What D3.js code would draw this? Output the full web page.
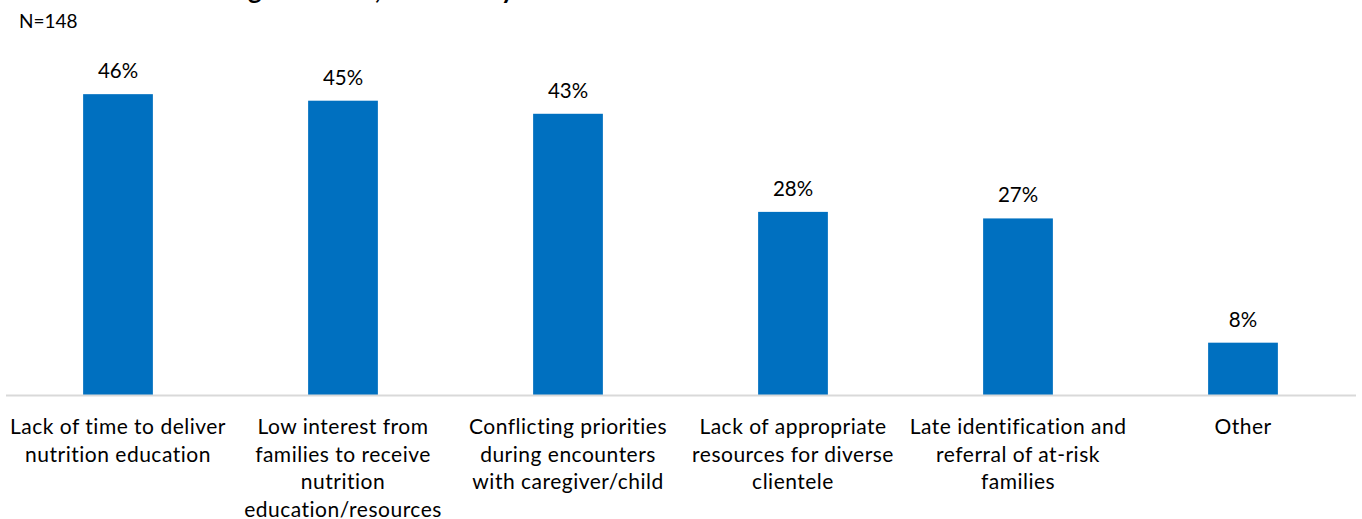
<!DOCTYPE html>
<html>
<head>
<meta charset="utf-8">
<script src="https://cdn.jsdelivr.net/npm/d3@7"></script>
<style>
  html, body { margin: 0; padding: 0; background: #fff; }
  svg { display: block; }
  text { font-family: Lato, "Open Sans", sans-serif; fill: #000; }
</style>
</head>
<body>
<script>
// Barrier categories (each label split into its display lines)
const categories = [
  "Lack of time to deliver nutrition education",
  "Low interest from families to receive nutrition education/resources",
  "Conflicting priorities during encounters with caregiver/child",
  "Lack of appropriate resources for diverse clientele",
  "Late identification and referral of at-risk families",
  "Other"
];
const categoryLines = [
  ["Lack of time to deliver", "nutrition education"],
  ["Low interest from", "families to receive", "nutrition", "education/resources"],
  ["Conflicting priorities", "during encounters", "with caregiver/child"],
  ["Lack of appropriate", "resources for diverse", "clientele"],
  ["Late identification and", "referral of at-risk", "families"],
  ["Other"]
];
// Share of respondents selecting each barrier (%)
const values = [46, 45, 43, 28, 27, 8];
const sampleLabel = "N=148";
const titleText = "Barriers to Addressing Nutrition, as Cited by Staff";

const width = 1362, height = 519;
const svg = d3.select("body").append("svg")
  .attr("width", width).attr("height", height);

const x = d3.scaleBand()
  .domain(categories)
  .range([5.5, 1355.5])
  .paddingInner(0.69)
  .paddingOuter(0.345);

const y = d3.scaleLinear().domain([0, 50]).range([395, 68]);

// Title (runs off the top edge)
svg.append("text")
  .attr("x", 6).attr("y", -1)
  .attr("font-size", 26).attr("font-weight", "bold")
  .text(titleText);

svg.append("text")
  .attr("x", 19).attr("y", 28)
  .attr("font-size", 19)
  .text(sampleLabel);

// Bars
svg.append("g").selectAll("rect")
  .data(values)
  .join("rect")
  .attr("x", (d, i) => x(categories[i]))
  .attr("width", x.bandwidth())
  .attr("y", d => y(d))
  .attr("height", d => y(0) - y(d))
  .attr("fill", "#0070c0");

// Value labels
svg.append("g").selectAll("text")
  .data(values)
  .join("text")
  .attr("x", (d, i) => x(categories[i]) + x.bandwidth() / 2)
  .attr("y", d => y(d) - 16)
  .attr("text-anchor", "middle")
  .attr("font-size", 20.5)
  .text(d => d + "%");

// Category axis
const axis = svg.append("g")
  .attr("transform", `translate(0,${y(0)})`)
  .call(d3.axisBottom(x).tickSize(0).tickFormat(""));
axis.select(".domain").attr("stroke", "#d9d9d9").attr("stroke-width", 2);

axis.selectAll(".tick").each(function(d) {
  const i = categories.indexOf(d);
  const t = d3.select(this).append("text")
    .attr("text-anchor", "middle")
    .attr("font-size", 21)
    .attr("letter-spacing", 0.5)
    .attr("fill", "#000");
  categoryLines[i].forEach((line, k) => {
    t.append("tspan").attr("x", 0).attr("y", 39 + k * 27.5).text(line);
  });
});
</script>
</body>
</html>
